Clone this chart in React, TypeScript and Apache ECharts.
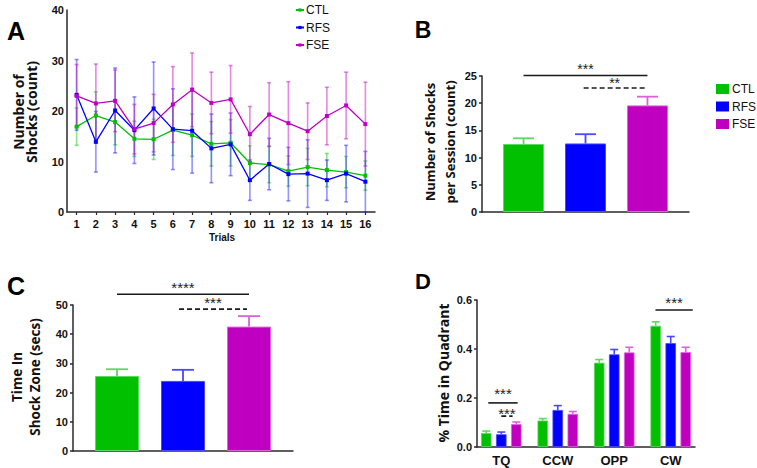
import React, { useEffect, useRef } from 'react';
import * as echarts from 'echarts';

// ---------- DATA ----------
const groups = ['CTL', 'RFS', 'FSE'];
const trials = ['1', '2', '3', '4', '5', '6', '7', '8', '9', '10', '11', '12', '13', '14', '15', '16'];
const ctlMean = [16.9, 19.1, 17.8, 14.5, 14.4, 16.2, 15.2, 13.5, 13.7, 9.7, 9.4, 8.1, 8.9, 8.3, 7.9, 7.2];
const ctlErr = [3.7, 4.7, 4.5, 3.5, 4.0, 5.0, 4.2, 4.4, 4.6, 3.4, 3.6, 3.0, 3.7, 3.3, 3.1, 2.9];
const rfsMean = [23.2, 13.9, 20.1, 16.2, 20.5, 16.4, 16.1, 12.6, 13.4, 6.3, 9.5, 7.5, 7.6, 6.3, 7.6, 6.0];
const rfsErr = [7.0, 6.0, 8.4, 6.6, 9.2, 8.0, 8.4, 6.8, 6.2, 4.0, 5.1, 5.3, 6.7, 4.0, 5.6, 6.0];
const fseMean = [23.0, 21.5, 22.0, 16.4, 17.6, 21.3, 24.2, 21.6, 22.3, 15.4, 19.3, 17.6, 16.0, 19.0, 21.1, 17.4];
const fseErr = [6.2, 7.8, 6.1, 4.9, 5.7, 7.5, 7.3, 6.1, 6.7, 5.5, 6.3, 8.2, 5.6, 5.7, 6.6, 8.3];

const shocksPerSession = [12.5, 12.6, 19.6];
const shocksPerSessionErr = [1.05, 1.7, 1.6];
const timeInZone = [25.7, 24.0, 42.6];
const timeInZoneErr = [2.3, 3.8, 3.6];

const quadrants = ['TQ', 'CCW', 'OPP', 'CW'];
const quadCtl = [0.057, 0.108, 0.344, 0.495];
const quadCtlErr = [0.008, 0.008, 0.013, 0.016];
const quadRfs = [0.052, 0.151, 0.378, 0.424];
const quadRfsErr = [0.009, 0.018, 0.020, 0.027];
const quadFse = [0.093, 0.135, 0.386, 0.387];
const quadFseErr = [0.009, 0.010, 0.021, 0.020];

// significance brackets: [x1, x2, y, label, dashed(1/0), label offset px]
type Sig = [number, number, number, string, number, number];
const sigB: Sig[] = [
  [0, 2, 25.1, '***', 0, -6],
  [0.97, 1.97, 22.8, '**', 1, -5],
];
const sigC: Sig[] = [
  [0, 2, 53.7, '****', 0, -7],
  [0.94, 1.97, 48.6, '***', 1, -7],
];
const sigD: Sig[] = [
  [-0.23, 0.29, 0.18, '***', 0, -9],
  [0.0, 0.2, 0.126, '***', 1, -3],
  [2.73, 3.39, 0.559, '***', 0, -8],
];

// ---------- STYLE ----------
const fill = ['#00c000', '#0000ff', '#c000c0'];
const light = ['#5fd85f', '#4848ff', '#dc62dc'];
const faint = ['rgba(30,200,30,0.5)', 'rgba(40,40,255,0.5)', 'rgba(200,20,200,0.5)'];
const AX = '#2a2a2a';
const TICKFONT = 'Liberation Sans, Arial, sans-serif';
const TITLEFONT = 'Open Sans, Liberation Sans, sans-serif';
const D_OFF = 0.266; // series offset within a quadrant group (in category units)

const axisLabel = (extra: any = {}) => ({
  fontFamily: TICKFONT, fontWeight: 'bold', fontSize: 11, color: '#111', ...extra,
});

function errSeries(name: string, xAxisIndex: number, yAxisIndex: number, data: number[][], color: string, cap: number, both: boolean, width = 1.5) {
  return {
    name, type: 'custom', xAxisIndex, yAxisIndex, clip: false, silent: true, z: 3,
    data,
    renderItem: (params: any, api: any) => {
      const x = api.value(0), m = api.value(1), e = api.value(2);
      const lo = api.coord([x, both ? m - e : m]);
      const hi = api.coord([x, m + e]);
      const st = { stroke: color, lineWidth: width };
      const ch: any[] = [
        { type: 'line', shape: { x1: lo[0], y1: lo[1], x2: hi[0], y2: hi[1] }, style: st },
        { type: 'line', shape: { x1: hi[0] - cap / 2, y1: hi[1], x2: hi[0] + cap / 2, y2: hi[1] }, style: st },
      ];
      if (both) ch.push({ type: 'line', shape: { x1: lo[0] - cap / 2, y1: lo[1], x2: lo[0] + cap / 2, y2: lo[1] }, style: st });
      return { type: 'group', children: ch };
    },
  };
}

function sigSeries(xAxisIndex: number, yAxisIndex: number, rows: Sig[], fontSize: number) {
  return {
    type: 'custom', xAxisIndex, yAxisIndex, clip: false, silent: true, z: 5,
    data: rows.map((r) => [r[0], r[2], r[1]]),
    renderItem: (params: any, api: any) => {
      const r = rows[params.dataIndex];
      const p1 = api.coord([r[0], r[2]]);
      const p2 = api.coord([r[1], r[2]]);
      const dashed = r[4] === 1;
      const line: any = {
        type: 'line',
        shape: { x1: p1[0], y1: p1[1], x2: p2[0], y2: p2[1] },
        style: { stroke: '#1a1a1a', lineWidth: 1.6 },
      };
      if (dashed) line.style.lineDash = [5, 3];
      return {
        type: 'group',
        children: [
          line,
          {
            type: 'text',
            x: (p1[0] + p2[0]) / 2, y: p1[1] + r[5],
            style: { text: r[3], fill: '#222', fontSize, fontFamily: TICKFONT, align: 'center', verticalAlign: 'middle' },
          },
        ],
      };
    },
  };
}

function buildOption() {
  const meansA = [ctlMean, rfsMean, fseMean];
  const errsA = [ctlErr, rfsErr, fseErr];
  const series: any[] = [];

  // Panel A: line series (first so legends take their colors)
  groups.forEach((g, k) => {
    series.push({
      name: g, type: 'line', xAxisIndex: 0, yAxisIndex: 0, z: 4,
      data: meansA[k], symbol: 'rect', symbolSize: 4,
      itemStyle: { color: fill[k] }, lineStyle: { color: fill[k], width: 1.3 },
    });
  });
  groups.forEach((g, k) => {
    series.push(errSeries(g + ' sem A', 0, 0, meansA[k].map((m, i) => [i, m, errsA[k][i]]), faint[k], 4, true, 1.6));
  });

  // Panel B
  groups.forEach((g, k) => {
    series.push({
      name: g, type: 'bar', xAxisIndex: 1, yAxisIndex: 1, barWidth: 41, barGap: '-100%',
      data: [[k, shocksPerSession[k]]],
      itemStyle: { color: fill[k], borderColor: light[k], borderWidth: 1 },
    });
  });
  series.push(...groups.map((g, k) => errSeries(g + ' sem B', 1, 1, [[k, shocksPerSession[k], shocksPerSessionErr[k]]], light[k], 21, false, 1.8)));
  series.push(sigSeries(1, 1, sigB, 14));

  // Panel C
  groups.forEach((g, k) => {
    series.push({
      name: g, type: 'bar', xAxisIndex: 2, yAxisIndex: 2, barWidth: 44, barGap: '-100%',
      data: [[k, timeInZone[k]]],
      itemStyle: { color: fill[k], borderColor: light[k], borderWidth: 1 },
    });
  });
  series.push(...groups.map((g, k) => errSeries(g + ' sem C', 2, 2, [[k, timeInZone[k], timeInZoneErr[k]]], light[k], 22, false, 1.8)));
  series.push(sigSeries(2, 2, sigC, 15));

  // Panel D
  const qm = [quadCtl, quadRfs, quadFse];
  const qe = [quadCtlErr, quadRfsErr, quadFseErr];
  groups.forEach((g, k) => {
    series.push({
      name: g, type: 'bar', xAxisIndex: 3, yAxisIndex: 3, barWidth: 10.5, barGap: '-100%',
      data: quadrants.map((q, i) => [i + (k - 1) * D_OFF, qm[k][i]]),
      itemStyle: { color: fill[k], borderColor: light[k], borderWidth: 0.8 },
    });
  });
  series.push(...groups.map((g, k) => errSeries(g + ' sem D', 3, 3, quadrants.map((q, i) => [i + (k - 1) * D_OFF, qm[k][i], qe[k][i]]), light[k], 8, false, 1.6)));
  series.push(sigSeries(3, 3, sigD, 15));

  const yCommon = (min: number, max: number, interval: number, gridIndex: number, ticks: boolean, fmt?: (v: number) => string) => ({
    type: 'value', gridIndex, min, max, interval,
    axisLine: { show: true, onZero: false, lineStyle: { color: AX, width: 1.5 } },
    axisTick: { show: ticks, length: 3, lineStyle: { color: AX, width: 1.5 } },
    splitLine: { show: false },
    axisLabel: axisLabel({ margin: ticks ? 5 : 3, formatter: fmt }),
  });

  const xValue = (gridIndex: number, min: number, max: number) => ({
    type: 'value', gridIndex, min, max,
    axisLine: { show: true, onZero: false, lineStyle: { color: AX, width: 1.5 } },
    axisTick: { show: false }, splitLine: { show: false },
    axisLabel: { show: false },
  });

  return {
    animation: false,
    backgroundColor: '#ffffff',
    grid: [
      { left: 67, top: 10, width: 308, height: 202 },
      { left: 482, top: 76, width: 207, height: 136 },
      { left: 73, top: 305, width: 220, height: 146 },
      { left: 477, top: 300, width: 218, height: 147 },
    ],
    xAxis: [
      {
        type: 'category', gridIndex: 0, data: trials, boundaryGap: true,
        axisLine: { show: true, onZero: false, lineStyle: { color: AX, width: 1.5 } },
        axisTick: { show: true, alignWithLabel: true, length: 3, lineStyle: { color: AX, width: 1.2 } },
        axisLabel: axisLabel({ margin: 6, interval: 0 }),
        splitLine: { show: false },
      },
      xValue(1, -0.67, 2.67),
      xValue(2, -0.667, 2.667),
      {
        ...xValue(3, -0.43, 3.43),
        axisLabel: {
          show: true, customValues: [0, 1, 2, 3], margin: 7,
          formatter: (v: number) => quadrants[Math.round(v)] ?? '',
          fontFamily: TICKFONT, fontWeight: 'bold', fontSize: 13, color: '#111',
        },
      },
    ],
    yAxis: [
      yCommon(0, 40, 10, 0, false),
      yCommon(0, 25, 5, 1, true),
      yCommon(0, 50, 10, 2, true),
      yCommon(0, 0.6, 0.2, 3, true, (v: number) => v.toFixed(1)),
    ],
    legend: [
      {
        data: groups, orient: 'vertical', left: 290, top: -2, itemWidth: 8, itemHeight: 4, itemGap: 3.5,
        selectedMode: false,
        textStyle: { fontFamily: TICKFONT, fontSize: 12, color: '#111', lineHeight: 14, padding: [0, 0, 0, -3] },
      },
      {
        data: groups, orient: 'vertical', left: 711, top: 78, icon: 'rect', itemWidth: 13, itemHeight: 10, itemGap: 5.5,
        selectedMode: false,
        textStyle: { fontFamily: TICKFONT, fontSize: 12, color: '#111', lineHeight: 12, padding: [0, 0, 0, -2] },
      },
    ],
    graphic: [
      { type: 'text', x: 16, y: 31, style: { text: 'A', fontSize: 25, fontWeight: 'bold', fontFamily: TICKFONT, fill: '#000', align: 'center', verticalAlign: 'middle' } },
      { type: 'text', x: 423, y: 30, style: { text: 'B', fontSize: 23, fontWeight: 'bold', fontFamily: TICKFONT, fill: '#000', align: 'center', verticalAlign: 'middle' } },
      { type: 'text', x: 16, y: 286, style: { text: 'C', fontSize: 25, fontWeight: 'bold', fontFamily: TICKFONT, fill: '#000', align: 'center', verticalAlign: 'middle' } },
      { type: 'text', x: 423, y: 281, style: { text: 'D', fontSize: 22, fontWeight: 'bold', fontFamily: TICKFONT, fill: '#000', align: 'center', verticalAlign: 'middle' } },
      { type: 'text', x: 25, y: 112, rotation: Math.PI / 2, style: { text: 'Number of\nShocks (count)', fontSize: 14, lineHeight: 13, fontWeight: 'bold', fontFamily: TITLEFONT, fill: '#111', align: 'center', verticalAlign: 'middle' } },
      { type: 'text', x: 440, y: 142, rotation: Math.PI / 2, style: { text: 'Number of Shocks\nper Session (count)', fontSize: 13, lineHeight: 20, fontWeight: 'bold', fontFamily: TITLEFONT, fill: '#111', align: 'center', verticalAlign: 'middle' } },
      { type: 'text', x: 26, y: 377, rotation: Math.PI / 2, style: { text: 'Time In\nShock Zone (secs)', fontSize: 13.5, lineHeight: 18, fontWeight: 'bold', fontFamily: TITLEFONT, fill: '#111', align: 'center', verticalAlign: 'middle' } },
      { type: 'text', x: 443, y: 373, rotation: Math.PI / 2, style: { text: '% Time in Quadrant', fontSize: 14, fontWeight: 'bold', fontFamily: TITLEFONT, fill: '#111', align: 'center', verticalAlign: 'middle' } },
      { type: 'text', x: 222, y: 237, style: { text: 'Trials', fontSize: 10, fontWeight: 'bold', fontFamily: TICKFONT, fill: '#111', align: 'center', verticalAlign: 'middle' } },
    ],
    series,
  };
}

export default function App() {
  const ref = useRef<HTMLDivElement>(null);
  useEffect(() => {
    if (!ref.current) return;
    const chart = echarts.init(ref.current, undefined, { renderer: 'svg' });
    chart.setOption(buildOption() as any);
    return () => chart.dispose();
  }, []);
  return <div ref={ref} style={{ position: 'fixed', left: 0, top: 0, width: 757, height: 468, background: '#fff' }} />;
}
